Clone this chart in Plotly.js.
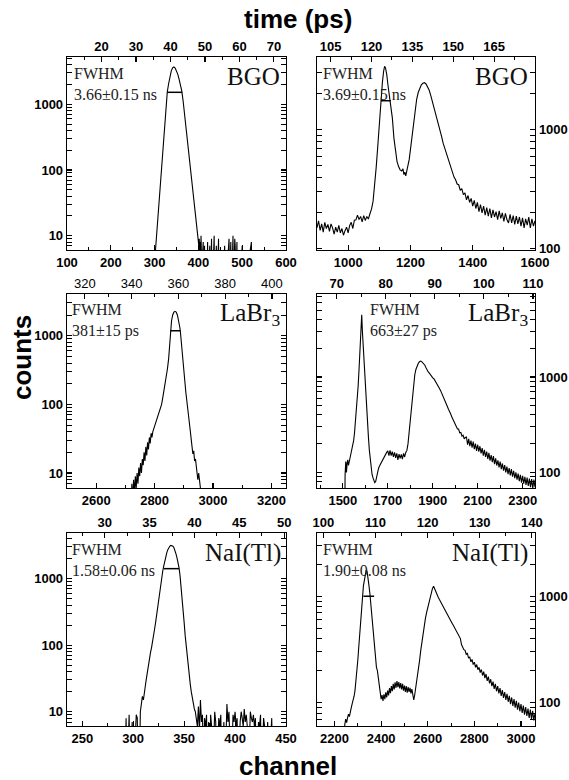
<!DOCTYPE html>
<html><head><meta charset="utf-8">
<script src="https://cdn.plot.ly/plotly-3.0.1.min.js"></script>
<style>html,body{margin:0;padding:0;background:#fff}#chart{width:569px;height:780px}</style>
</head><body><div id="chart"></div>
<script>
// ---------- DATA ----------
// Panel 1: BGO (fast)
const bgoFastCh = [296,300,302,305,308,311,314,317,320,323,326,329,332,335,338,341,344,347,350,353,356,359,362,365,368,371,374,377,380,383,386,389,392,395,398,400,401,
 402,403,404,405,406,407,408,409,410,411,412,414,415,418,419,421,422,426,427,430,431,436,437,441,442,446,447,452,453,460,461,470,471,474,475,479,480,483,484,485,488,489,492,493,500,501,521,522];
const bgoFastCounts = [1,1,6,11,21,39,72,135,250,470,870,1550,2050,2650,3200,3580,3690,3550,3250,2850,2400,2000,1600,1140,760,505,336,224,149,99,66,44,29,19,12,9,7,
 9,3,8,5,10,4,7,1,6,8,1,7,1,6,1,8,1,7,1,9,1,10,1,7,1,9,1,6,1,7,1,9,1,8,1,10,1,9,7,1,8,1,6,1,7,1,8,1];
// Panel 2: BGO (two peaks)
const bgoSlowCh = [900,905,910,915,920,925,930,935,940,945,950,955,960,965,970,975,980,985,990,995,1000,1005,1010,1015,1020,1025,1030,1035,1040,1045,1050,1055,1060,1065,1070,1075,
 1080,1085,1090,1095,1100,1105,1110,1114,1117,1120,1124,1128,1132,1137,1142,1147,1152,1157,1162,1167,1172,1176,1179,1182,1185,1188,1192,1196,1200,
 1205,1210,1215,1220,1225,1230,1235,1240,1245,1250,1255,1260,1265,1270,1275,1280,1285,1290,1295,1300,1305,1310,1315,1320,1325,1330,1335,1340,1345,1350,
 1355,1360,1365,1370,1375,1380,1385,1390,1395,1400,1405,1410,1415,1420,1425,1430,1435,1440,1445,1450,1455,1460,1465,1470,1475,1480,1485,1490,1495,1500,
 1505,1510,1515,1520,1525,1530,1535,1540,1545,1550,1555,1560,1565,1570,1575,1580,1585,1590,1595,1600];
const bgoSlowCounts = [150,172,143,162,138,167,148,160,140,162,150,133,152,138,157,136,148,130,142,152,136,157,167,148,174,175,192,176,187,168,190,173,187,178,197,215,
 250,330,480,720,1150,1750,2500,3100,3400,3300,2900,2350,2000,1650,1250,850,650,540,490,460,450,470,420,440,410,450,480,560,680,
 860,1100,1450,1800,2050,2250,2380,2450,2480,2420,2300,2150,1950,1750,1560,1400,1230,1100,970,880,770,700,620,570,520,470,440,400,380,350,
 345,310,320,285,295,258,280,245,265,228,255,218,245,205,235,200,228,192,222,188,218,182,212,185,205,176,208,180,200,170,
 198,175,165,195,165,190,160,188,162,185,155,182,150,178,158,185,150,178,155,172];
// Panel 3: LaBr3 (single peak)
const labrFastCh = [2718,2722,2725,2728,2731,2734,2737,2740,2743,2746,2749,2752,2755,2758,2761,2764,2767,2770,2773,2776,
 2779,2782,2785,2788,2791,2794,2797,2800,2804,2808,2812,2816,2820,2824,2828,2832,2836,2840,2844,2848,
 2851,2854,2858,2862,2866,2870,2874,2878,2882,2886,2888,2891,2894,2897,2900,2903,2907,2911,2915,2919,
 2922,2925,2928,2931,2934,2937,2940,2943,2946,2948,2951,2954,2957,2959];
const labrFastCounts = [1,7,4,8,5,9,6,10,7,12,9,14,10,16,13,20,15,24,18,28,
 22,33,27,38,33,40,44,48,55,62,70,78,88,100,125,155,195,250,330,460,
 750,1180,1650,2000,2200,2260,2200,2000,1700,1350,1180,800,560,440,310,230,150,100,70,52,
 42,32,25,19,21,15,16,12,11,8,10,7,6,1];
// Panel 4: LaBr3 (two peaks)
const labrSlowCh = [1504,1507,1510,1513,1516,1519,1522,1525,1528,1532,1536,1540,1544,1548,1552,1556,1560,1564,1568,1572,
 1576,1580,1584,1587,1590,1594,1598,1602,1606,1610,1614,1618,1622,1626,1630,1634,1638,1642,1646,1650,
 1654,1658,1662,1666,1670,1675,1680,1685,1690,1695,1700,
 1705,1710,1715,1720,1725,1730,1735,1740,1745,1750,1755,1760,1765,1770,1775,1780,1785,1790,1795,1800,
 1805,1810,1815,1820,1825,1830,1835,1840,1845,1850,1855,1860,1865,1870,1875,1880,1885,1890,1895,1900,
 1905,1910,1915,1920,1925,1930,1935,1940,1945,1950,1955,1960,1965,1970,1975,1980,1985,1990,1995,2000,
 2005,2010,2015,2020,2025,2030,2035,2040,2045,2050,2055,2060,2065,2070,2075,2080,2085,2090,2095,2100,
 2105,2110,2115,2120,2125,2130,2135,2140,2145,2150,2155,2160,2165,2170,2175,2180,2185,2190,2195,2200,
 2205,2210,2215,2220,2225,2230,2235,2240,2245,2250,2255,2260,2265,2270,2275,2280,2285,2290,2295,2300,
 2305,2310,2315,2320,2325,2330,2335,2340,2345,2350,2355];
const labrSlowCounts = [1,60,95,130,100,125,135,118,128,140,152,165,180,215,260,330,420,540,800,1200,
 1750,2650,4500,3000,2200,1400,900,580,420,300,230,170,130,108,95,88,82,78,80,92,
 100,108,115,120,128,135,140,148,155,162,168,
 150,170,150,165,145,162,142,158,135,155,140,154,138,158,145,162,170,200,260,350,
 480,650,850,1050,1200,1300,1380,1440,1470,1460,1420,1380,1330,1250,1180,1130,1100,1060,1000,980,
 960,920,880,850,800,760,720,680,640,600,570,520,490,460,440,410,380,360,340,320,
 310,285,285,260,262,240,245,225,232,235,195,225,188,215,182,210,175,200,168,195,
 165,188,158,180,150,172,145,165,138,160,133,152,128,148,122,140,118,134,113,130,
 108,124,104,119,100,115,96,111,93,108,90,104,87,100,84,97,81,94,78,92,
 76,90,74,88,72,86,70,85,68,84,70];
// Panel 5: NaI(Tl) (single peak)
const naiFastCh = [292,293,294,296,297,299,300,303,304,305,306,307,308,309,310,311,312,313,314,315,
 316,317,318,319,320,321,322,323,324,325,326,327,328,329,330,331,332,333,334,335,
 336,337,338,339,340,341,342,343,344,345,346,347,348,349,350,351,352,353,354,355,
 356,357,358,359,360,361,362,363,364,365,366,367,368,369,370,371,372,373,374,375,
 376,377,378,380,381,382,384,385,386,387,389,390,392,393,394,395,396,398,399,400,
 401,402,403,405,406,407,408,409,410,411,412,413,415,416,417,418,419,420,421,423,
 424,425,426,428,429,430,432,433,436,437];
const naiFastCounts = [1,8,1,9,1,7,1,9,8,1,1,10,15,17,15,21,25,32,42,52,
 64,78,92,110,140,175,220,290,380,500,640,830,1050,1300,1550,1850,2150,2450,2720,2930,
 3080,3150,3150,3070,2900,2650,2350,2050,1750,1450,1100,780,520,340,220,140,95,65,46,34,
 26,20,16,13,11,10,8,6,12,5,15,7,9,1,8,6,9,1,7,1,
 9,6,1,10,7,1,8,6,9,1,7,1,13,7,10,6,1,9,7,10,
 6,8,1,7,10,8,6,11,7,9,6,1,10,8,7,9,6,8,1,7,
 6,9,1,8,6,1,7,1,8,1];
// Panel 6: NaI(Tl) (two peaks)
const naiSlowCh = [2240,2244,2248,2252,2256,2260,2264,2268,2272,2276,2280,2284,2288,2292,2296,2300,2304,2308,2312,2316,
 2320,2324,2328,2332,2336,2340,2344,2348,2352,2356,2360,2364,2368,2372,2376,2380,2384,2388,2392,2396,
 2400,2404,2408,2412,2416,2420,2424,2428,2432,2436,2440,2444,2448,2452,2456,2460,2464,2468,2472,2476,
 2480,2484,2488,2492,2496,2500,2504,2508,2512,2516,2520,2524,2528,2532,2536,2540,2544,2548,2552,2556,
 2560,2565,2570,2575,2580,2585,2590,2595,2600,2605,2610,2615,2620,2625,2630,2635,2640,2645,2650,2655,
 2660,2665,2670,2675,2680,2685,2690,2695,2700,2705,2710,2715,2720,2725,2730,2735,2740,2745,2750,2755,
 2760,2765,2770,2775,2780,2785,2790,2795,2800,2805,2810,2815,2820,2825,2830,2835,2840,2845,2850,2855,
 2860,2865,2870,2875,2880,2885,2890,2895,2900,2905,2910,2915,2920,2925,2930,2935,2940,2945,2950,2955,
 2960,2965,2970,2975,2980,2985,2990,2995,3000,3005,3010,3015,3020,3025,3030,3035,3040,3045,3050,3055,3060];
const naiSlowCounts = [1,62,70,65,72,78,74,85,90,98,105,115,130,155,190,250,330,450,600,780,
 1000,1250,1400,1650,1760,1700,1500,1250,1050,850,650,500,390,310,250,215,200,165,140,125,
 108,118,104,120,108,125,112,130,117,137,123,143,128,150,133,155,138,160,140,156,
 136,153,133,150,130,145,126,143,124,140,126,138,122,134,116,106,118,135,150,175,
 200,250,310,380,450,530,620,700,780,870,960,1060,1180,1240,1160,1090,1030,980,930,890,
 850,810,770,740,700,670,640,610,580,555,530,505,480,460,435,420,400,350,325,315,
 310,285,290,262,270,242,255,228,240,215,228,204,215,192,205,180,196,170,186,160,
 176,152,166,143,158,135,150,128,143,122,137,116,131,111,126,106,121,102,116,97,
 112,93,108,90,104,86,100,83,97,80,94,77,91,75,88,72,86,70,84,68,80];

// FWHM markers (channel from, channel to, counts level); panel 4 has none
const fwhmFrom  = [328.6, 1105, 2854, null, 330, 2324];
const fwhmTo    = [362.9, 1137, 2888, null, 345, 2370];
const fwhmLevel = [1520, 1750, 1180, null, 1410, 1000];

// Tick labels
const chTicks = [[100,200,300,400,500,600],[1000,1200,1400,1600],[2600,2800,3000,3200],[1500,1700,1900,2100,2300],[250,300,350,400,450],[2200,2400,2600,2800,3000]];
const chMinor = [[150,250,350,450,550],[1100,1300,1500],[2700,2900,3100],[1400,1600,1800,2000,2200],[275,325,375,425],[2300,2500,2700,2900]];
const timeTicks = [[20,30,40,50,60,70],[105,120,135,150,165],[320,340,360,380,400],[70,80,90,100,110],[30,35,40,45,50],[100,110,120,130,140]];
const timeMinor = [[15,25,35,45,55,65],[112.5,127.5,142.5,157.5,172.5],[330,350,370,390],[75,85,95,105],[27.5,32.5,37.5,42.5,47.5],[105,115,125,135]];
const countTicks = [10,100,1000];
const countMinor = [2,3,4,5,6,7,8,9,20,30,40,50,60,70,80,90,200,300,400,500,600,700,800,900,2000,3000,4000,5000,6000,7000,8000,9000];

const crystalLabels = ['BGO','BGO','LaBr<sub>3</sub>','LaBr<sub>3</sub>','NaI(Tl)','NaI(Tl)'];
const fwhmValues = ['3.66±0.15 ns','3.69±0.15 ns','381±15 ps','663±27 ps','1.58±0.06 ns','1.90±0.08 ns'];

const channelSets = [bgoFastCh,bgoSlowCh,labrFastCh,labrSlowCh,naiFastCh,naiSlowCh];
const countSets = [bgoFastCounts,bgoSlowCounts,labrFastCounts,labrSlowCounts,naiFastCounts,naiSlowCounts];

// ---------- LAYOUT ----------
const W = 569, H = 780;
const colPx = [[67,286],[317,535]];
const rowPx = [[57,250],[294,488],[533,726]];
const chRanges = [[100,600],[900,1600],[2500,3250],[1385,2355],[235,450],[2125,3060]];
const timeRanges = [[10,73.5],[100,180],[312.4,406],[66,110.4],[25.8,50.2],[98.8,140.6]];
const logRanges = [[0.782,3.719],[1.99,3.61],[0.782,3.607],[1.836,3.871],[0.785,3.685],[1.781,3.594]];
const textPos = [ // [fwhm text left px, label right px]
  [72,282],[321,530],[70,282],[368,530],[70,283],[321,530]];

const sansBold = {family:'Liberation Sans, Arial, sans-serif', size:13, color:'#000', weight:'bold'};
const sansNormal = {family:'Liberation Sans, Arial, sans-serif', size:13, color:'#000', weight:'normal'};
const serif = 'Liberation Serif, Times New Roman, serif';

const layout = {width:W, height:H, margin:{l:0,r:0,t:0,b:0}, showlegend:false,
  paper_bgcolor:'#fff', plot_bgcolor:'rgba(0,0,0,0)', annotations:[]};
const traces = [];

function pxX(x){return x/W;} function pxY(y){return 1-y/H;}

for (let k=0;k<6;k++){
  const col=k%2, row=Math.floor(k/2);
  const xb = 2*k+1, xt = 2*k+2, yi = k+1;
  const xbName = xb===1?'xaxis':'xaxis'+xb;
  const xbId = xb===1?'x':'x'+xb;
  const xtName = 'xaxis'+xt, xtId='x'+xt;
  const yName = yi===1?'yaxis':'yaxis'+yi, yId = yi===1?'y':'y'+yi;
  const common = {showline:true, linecolor:'#000', linewidth:1.3, ticks:'inside', ticklen:5, tickwidth:1.1, tickcolor:'#000',
    showgrid:false, zeroline:false, fixedrange:true};
  layout[xbName] = Object.assign({}, common, {
    domain:[pxX(colPx[col][0]), pxX(colPx[col][1])], range:chRanges[k], anchor:yId, side:'bottom',
    tickmode:'array', tickvals:chTicks[k], ticktext:chTicks[k].map(String), tickfont:sansBold,
    minor:{ticks:'inside', ticklen:3, tickwidth:1, tickcolor:'#000', tickmode:'array', tickvals:chMinor[k]}
  });
  layout[xtName] = Object.assign({}, common, {
    overlaying:xbId, range:timeRanges[k], anchor:yId, side:'top',
    tickmode:'array', tickvals:timeTicks[k], ticktext:timeTicks[k].map(String), tickfont: k===2?sansNormal:sansBold,
    minor:{ticks:'inside', ticklen:3, tickwidth:1, tickcolor:'#000', tickmode:'array', tickvals:timeMinor[k]}
  });
  layout[yName] = Object.assign({}, common, {
    domain:[pxY(rowPx[row][1]), pxY(rowPx[row][0])], type:'log', range:logRanges[k], anchor:xbId,
    side: col===0?'left':'right', mirror:'allticks',
    tickmode:'array', tickvals:countTicks, ticktext:countTicks.map(String), tickfont:sansBold,
    minor:{ticks:'inside', ticklen:3, tickwidth:1, tickcolor:'#000', tickmode:'array', tickvals:countMinor}
  });
  traces.push({type:'scatter', mode:'lines', x:channelSets[k], y:countSets[k], xaxis:xbId, yaxis:yId,
    line:{color:'#000', width:1.1}, hoverinfo:'skip'});
  if (fwhmFrom[k]!==null){
    traces.push({type:'scatter', mode:'lines', x:[fwhmFrom[k], fwhmTo[k]], y:[fwhmLevel[k], fwhmLevel[k]],
      xaxis:xbId, yaxis:yId, line:{color:'#000', width:1.5}, hoverinfo:'skip'});
  }
  traces.push({type:'scatter', mode:'lines', x:[], y:[], xaxis:xtId, yaxis:yId, hoverinfo:'skip'});

  const top = rowPx[row][0];
  layout.annotations.push({xref:'paper', yref:'paper', x:pxX(textPos[k][0]), y:pxY(top+16), xanchor:'left', yanchor:'middle',
    text:'FWHM', showarrow:false, font:{family:serif, size:16, color:'#222'}});
  layout.annotations.push({xref:'paper', yref:'paper', x:pxX(textPos[k][0]), y:pxY(top+37), xanchor:'left', yanchor:'middle',
    text:fwhmValues[k], showarrow:false, font:{family:serif, size:16, color:'#222'}});
  layout.annotations.push({xref:'paper', yref:'paper', x:pxX(textPos[k][1]), y:pxY(top+20), xanchor:'right', yanchor:'middle',
    text:crystalLabels[k], showarrow:false, font:{family:serif, size:25, color:'#111'}});
}

const titleFont = {family:'Liberation Sans, Arial, sans-serif', size:26, color:'#000', weight:'bold'};
layout.annotations.push({xref:'paper', yref:'paper', x:pxX(298), y:pxY(19), xanchor:'center', yanchor:'middle', text:'time (ps)', showarrow:false, font:titleFont});
layout.annotations.push({xref:'paper', yref:'paper', x:pxX(288), y:pxY(766), xanchor:'center', yanchor:'middle', text:'channel', showarrow:false, font:titleFont});
layout.annotations.push({xref:'paper', yref:'paper', x:pxX(22), y:pxY(358), xanchor:'center', yanchor:'middle', text:'counts', textangle:-90, showarrow:false, font:titleFont});

Plotly.newPlot('chart', traces, layout, {displayModeBar:false, staticPlot:true});
</script>
</body></html>
